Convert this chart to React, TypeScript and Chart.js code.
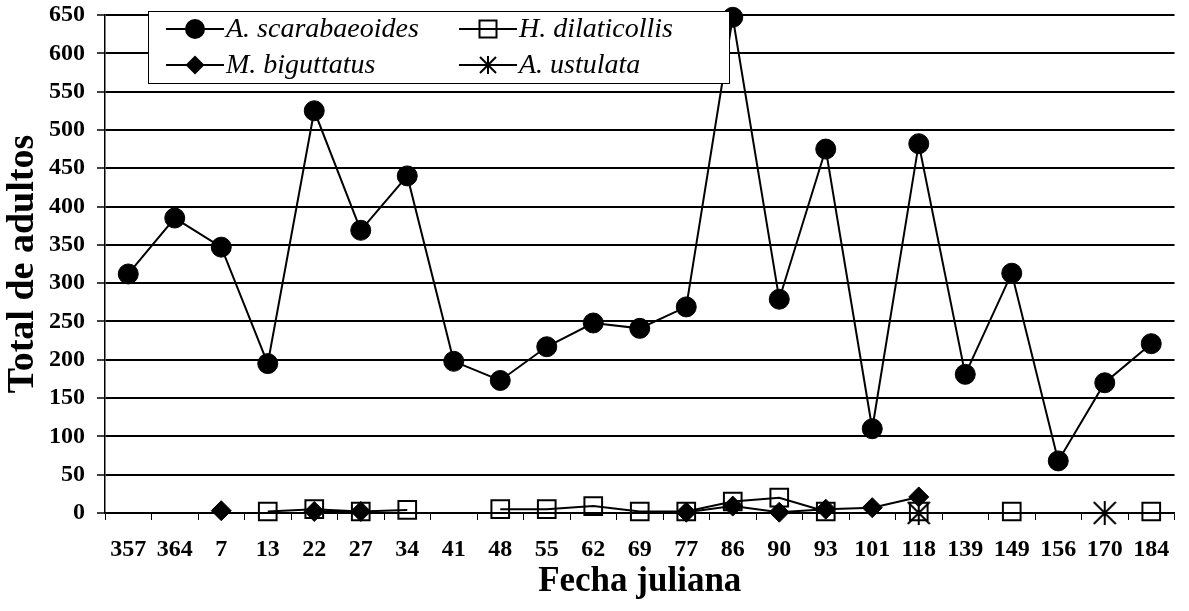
import React, { useEffect, useRef } from 'react';
import { Chart, registerables } from 'chart.js';

Chart.register(...registerables);

const categories = ['357', '364', '7', '13', '22', '27', '34', '41', '48', '55', '62', '69', '77', '86', '90', '93', '101', '118', '139', '149', '156', '170', '184'];
const seriesNames = ['A. scarabaeoides', 'H. dilaticollis', 'M. biguttatus', 'A. ustulata'];
const scarabaeoides = [312, 385, 347, 195, 525, 369, 440, 198, 173, 217, 248, 241, 269, 647, 279, 475, 110, 482, 181, 313, 68, 170, 221];
const dilaticollis = [null, null, null, 2, 5, 2, 4, null, 5, 5, 9, 2, 2, 15, 20, 2, null, 2, null, 2, null, null, 2];
const biguttatus = [null, null, 3, null, 2, 2, null, null, null, null, null, null, 1, 9, 1, 5, 7, 21, null, null, null, null, null];
const ustulata = [null, null, null, null, null, null, null, null, null, null, null, null, null, null, null, null, null, 0, null, null, null, 0, null];
const yMin = 0;
const yMax = 650;
const yStep = 50;
const xTitle = 'Fecha juliana';
const yTitle = 'Total de adultos';

const FONT = "'Liberation Serif', 'Times New Roman', serif";

function makeAsterisk(size: number, lw: number): HTMLCanvasElement {
  const c = document.createElement('canvas');
  c.width = size;
  c.height = size;
  const g = c.getContext('2d')!;
  g.strokeStyle = '#000';
  g.lineWidth = lw;
  g.beginPath();
  g.moveTo(size / 2, 0);
  g.lineTo(size / 2, size);
  g.moveTo(1, 1);
  g.lineTo(size - 1, size - 1);
  g.moveTo(size - 1, 1);
  g.lineTo(1, size - 1);
  g.stroke();
  return c;
}

function drawMarker(ctx: CanvasRenderingContext2D, kind: string, x: number, y: number, star: HTMLCanvasElement) {
  ctx.save();
  ctx.fillStyle = '#000';
  ctx.strokeStyle = '#000';
  if (kind === 'circle') {
    ctx.beginPath();
    ctx.arc(x, y, 10, 0, Math.PI * 2);
    ctx.fill();
  } else if (kind === 'rect') {
    ctx.lineWidth = 2;
    ctx.strokeRect(x - 8.5, y - 8.5, 17, 17);
  } else if (kind === 'rectRot') {
    ctx.beginPath();
    ctx.moveTo(x, y - 9.5);
    ctx.lineTo(x + 9.5, y);
    ctx.lineTo(x, y + 9.5);
    ctx.lineTo(x - 9.5, y);
    ctx.closePath();
    ctx.fill();
  } else {
    ctx.drawImage(star, x - star.width / 2, y - star.height / 2);
  }
  ctx.restore();
}

export default function App() {
  const ref = useRef<HTMLCanvasElement | null>(null);

  useEffect(() => {
    if (!ref.current) return;
    const bigStar = makeAsterisk(24, 2);
    const smallStar = makeAsterisk(18, 2);
    const kinds = ['circle', 'rect', 'rectRot', 'star'];

    const legendPlugin = {
      id: 'boxLegend',
      afterDraw(chart: any) {
        const ctx: CanvasRenderingContext2D = chart.ctx;
        const box = { x: 148, y: 11, w: 581, h: 72 };
        ctx.save();
        ctx.fillStyle = '#fff';
        ctx.fillRect(box.x, box.y, box.w, box.h);
        ctx.strokeStyle = '#000';
        ctx.lineWidth = 1;
        ctx.strokeRect(box.x + 0.5, box.y + 0.5, box.w, box.h);
        const cols = [166, 459];
        const rows = [29, 65];
        chart.data.datasets.forEach((ds: any, i: number) => {
          const cx = cols[i % 2];
          const cy = rows[Math.floor(i / 2)];
          ctx.strokeStyle = '#000';
          ctx.lineWidth = 2;
          ctx.beginPath();
          ctx.moveTo(cx, cy);
          ctx.lineTo(cx + 58, cy);
          ctx.stroke();
          drawMarker(ctx, kinds[i], cx + 29, cy, smallStar);
          ctx.fillStyle = '#000';
          ctx.font = `italic 28px ${FONT}`;
          ctx.textBaseline = 'middle';
          ctx.textAlign = 'left';
          ctx.fillText(ds.label, cx + 60, cy + 1);
        });
        ctx.restore();
      },
    };

    const chart = new Chart(ref.current, {
      type: 'line',
      data: {
        labels: categories,
        datasets: [
          {
            label: seriesNames[0],
            data: scarabaeoides,
            borderColor: '#000',
            borderWidth: 2,
            pointStyle: 'circle',
            pointRadius: 10,
            pointBackgroundColor: '#000',
            pointBorderColor: '#000',
            pointBorderWidth: 1,
            clip: false,
            order: 0,
          },
          {
            label: seriesNames[1],
            data: dilaticollis,
            borderColor: '#000',
            borderWidth: 2,
            pointStyle: 'rect',
            pointRadius: 12.5,
            pointBackgroundColor: 'rgba(0,0,0,0)',
            pointBorderColor: '#000',
            pointBorderWidth: 2,
            clip: false,
            order: 2,
          },
          {
            label: seriesNames[2],
            data: biguttatus,
            borderColor: '#000',
            borderWidth: 2,
            pointStyle: 'rectRot',
            pointRadius: 10,
            pointBackgroundColor: '#000',
            pointBorderColor: '#000',
            pointBorderWidth: 1,
            clip: false,
            order: 1,
          },
          {
            label: seriesNames[3],
            data: ustulata,
            borderColor: '#000',
            borderWidth: 2,
            pointStyle: bigStar,
            pointRadius: 12,
            clip: false,
            order: 0,
          },
        ] as any,
      },
      options: {
        animation: false,
        responsive: false,
        maintainAspectRatio: false,
        layout: { padding: { left: 0, top: 15, right: 4, bottom: 0 } },
        plugins: {
          legend: { display: false },
          tooltip: { enabled: false },
        },
        scales: {
          x: {
            type: 'category',
            offset: true,
            grid: {
              offset: true,
              drawOnChartArea: false,
              drawTicks: true,
              tickLength: 7,
              tickColor: '#000',
              tickWidth: 1,
            },
            border: { display: true, color: '#000', width: 1.5 },
            ticks: {
              color: '#000',
              font: { family: FONT, size: 24, weight: 'bold' },
              padding: 15,
              maxRotation: 0,
              autoSkip: false,
            },
            title: {
              display: true,
              text: xTitle,
              color: '#000',
              font: { family: FONT, size: 35, weight: 'bold' },
              padding: { top: 0, bottom: 8 },
            },
            afterFit: (s: any) => {
              s.height = 98;
              s.paddingLeft = 0;
              s.paddingRight = 0;
            },
          },
          y: {
            min: yMin,
            max: yMax,
            ticks: {
              stepSize: yStep,
              color: '#000',
              font: { family: FONT, size: 24, weight: 'bold' },
              padding: 12,
            },
            grid: {
              color: '#000',
              lineWidth: 2,
              drawTicks: true,
              tickLength: 8,
              tickColor: '#000',
              tickWidth: 1.5,
            },
            border: { display: true, color: '#000', width: 1.5 },
            title: {
              display: true,
              text: yTitle,
              color: '#000',
              font: { family: FONT, size: 38, weight: 'bold' },
              padding: { top: 0, bottom: 0 },
            },
            afterFit: (s: any) => {
              s.width = 105;
              s.paddingTop = 0;
              s.paddingBottom = 0;
            },
          },
        },
      } as any,
      plugins: [legendPlugin],
    });
    return () => chart.destroy();
  }, []);

  return (
    <div style={{ position: 'fixed', left: 0, top: 0, width: 1189, height: 611, background: '#fff' }}>
      <canvas ref={ref} width={1189} height={611} style={{ display: 'block', width: 1189, height: 611 }} />
    </div>
  );
}
